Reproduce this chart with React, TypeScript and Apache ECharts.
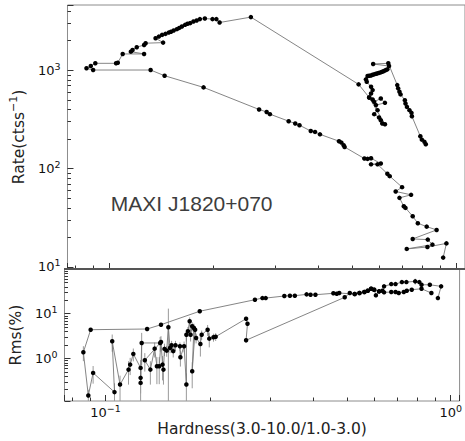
import React, { useEffect, useRef } from 'react';
import * as echarts from 'echarts';

// ---------- data ----------
const topHardness = [
  0.818, 0.811, 0.797, 0.789, 0.746, 0.744, 0.734, 0.722, 0.715, 0.712, 0.692, 0.687, 0.681, 0.677, 0.638,
  0.577, 0.641, 0.634, 0.628, 0.620, 0.613, 0.607, 0.600, 0.594, 0.588, 0.581, 0.575, 0.569, 0.562, 0.556, 0.550, 0.553,
  0.569, 0.575, 0.569, 0.562, 0.575, 0.581, 0.607, 0.624, 0.588, 0.594, 0.581, 0.600, 0.607, 0.613, 0.624, 0.562, 0.524,
  0.2565, 0.2084, 0.2040, 0.1988, 0.1890, 0.1829, 0.1790, 0.1752, 0.1714, 0.1685, 0.1658, 0.1623, 0.1595, 0.1570, 0.1537,
  0.1510, 0.1487, 0.1455, 0.1423, 0.1393, 0.1363, 0.1433, 0.1276, 0.1263, 0.1203, 0.1170, 0.1157, 0.1263, 0.1096, 0.1061,
  0.1049, 0.0914, 0.0887, 0.0862, 0.0901,
  0.1319, 0.1447, 0.1874, 0.2708, 0.2847, 0.2910, 0.3295, 0.3442, 0.3540, 0.3815, 0.3925, 0.4055, 0.4601, 0.4674, 0.4745,
  0.4775, 0.5443, 0.556, 0.569, 0.607, 0.569, 0.594, 0.634, 0.644, 0.699, 0.670, 0.742, 0.687, 0.707, 0.715, 0.750, 0.776,
  0.823, 0.879, 0.750, 0.829, 0.855, 0.721, 0.827, 0.938, 0.918,
];
const topRate = [
  176, 186, 196, 212, 339, 367, 391, 422, 457, 494, 565, 601, 651, 703, 1170,
  1151, 1098, 1016, 1000, 977, 960, 947, 935, 925, 915, 904, 895, 880, 875, 869, 804, 760,
  675, 625, 578, 526, 502, 475, 514, 464, 440, 391, 356, 329, 309, 286, 281, 526, 715,
  3450, 3039, 3291, 3291, 3338, 3291, 3185, 3111, 2996, 2950, 2879, 2766, 2680, 2602, 2518,
  2450, 2402, 2329, 2276, 2187, 2107, 1899, 1873, 1799, 1704, 1600, 1537, 1457, 1457, 1187,
  1170, 1170, 1098, 1041, 1000,
  1000, 875, 666, 397, 375, 356, 302, 286, 275, 240, 235, 222, 189, 183, 172,
  165, 126, 125, 127, 112, 110, 110, 88.3, 83.4, 64.5, 58.3, 53.9, 50.2, 41.2, 39.7, 32.6, 27.7,
  25.6, 23.7, 19.2, 18.9, 16.8, 15.2, 15.9, 17.3, 12.4,
];

const bottomHardness = [
  0.879, 0.823, 0.771, 0.746, 0.731, 0.707, 0.692, 0.6725, 0.641, 0.620, 0.607, 0.600, 0.588, 0.575, 0.562, 0.544, 0.527, 0.510, 0.493,
  0.2553, 0.2577, 0.2553, 0.2084, 0.2054, 0.1997, 0.1975, 0.1898, 0.1882, 0.1829, 0.1817, 0.1782, 0.1802, 0.1782, 0.1763, 0.1752,
  0.1732, 0.1714, 0.1714, 0.1688, 0.1647, 0.1642, 0.1594, 0.1570, 0.1553, 0.1537, 0.1520, 0.1503, 0.1481, 0.1471, 0.1462, 0.1447,
  0.1430, 0.1408, 0.1387, 0.1348, 0.1299, 0.1439, 0.1272, 0.1263, 0.1263, 0.1263, 0.1203, 0.1178, 0.1165, 0.1101, 0.1045, 0.1061,
  0.0920, 0.0891, 0.0862, 0.0905,
  0.1319, 0.1447, 0.1874, 0.2708, 0.2847, 0.2910, 0.3295, 0.3420, 0.3534, 0.3823, 0.3925, 0.4055, 0.4570, 0.4674, 0.4753,
  0.527, 0.544, 0.562, 0.575, 0.588, 0.600, 0.620, 0.634, 0.641, 0.6725, 0.692, 0.722, 0.744, 0.789, 0.811, 0.823, 0.870, 0.938, 0.918,
];
const bottomRms = [
  28.9, 36.1, 34.3, 32.5, 30.4, 28.9, 30.4, 30.4, 30.0, 31.5, 25.7, 34.3, 36.1, 32.5, 30.4, 28.9, 27.5, 28.9, 23.2,
  2.53, 5.94, 7.69, 3.04, 2.95, 2.75, 4.36, 3.37, 2.09, 2.85, 4.36, 0.512, 4.76, 5.20, 3.37, 6.73,
  4.02, 3.37, 0.257, 1.86, 1.05, 1.86, 1.95, 1.44, 1.95, 1.70, 4.94, 1.48, 1.62, 0.556, 0.719, 2.32,
  0.662, 0.662, 1.64, 0.556, 0.902, 2.20, 2.20, 0.280, 0.363, 0.607, 1.25, 0.719, 0.556, 0.257, 2.40, 0.174,
  0.469, 0.146, 1.36, 4.36,
  4.52, 5.65, 11.3, 20.5, 22.3, 22.3, 24.8, 25.2, 25.2, 27.0, 26.5, 26.5, 28.5, 27.9, 28.9,
  27.5, 28.9, 30.4, 32.5, 36.1, 34.3, 31.5, 32.5, 40.8, 45.9, 45.9, 50.9, 50.9, 52.8, 50.9, 44.3, 44.3, 40.8, 22.3,
];
const bottomRmsErr = [
  1, 1, 1, 1, 1, 1, 1, 1, 1, 1, 1, 1, 1, 1, 1, 1, 1, 1, 1,
  0.3, 0.6, 0.8, 0.6, 0.6, 1.0, 1.2, 0.8, 1.0, 0.7, 0.8, 0.3, 1.2, 1.2, 1.0, 1.5,
  1.0, 1.0, 0.2, 0.5, 0.4, 0.4, 0.5, 0.4, 0.5, 0.4, 8.0, 0.4, 0.5, 0.3, 0.4, 0.8,
  0.4, 0.4, 0.6, 0.3, 0.4, 0.8, 1.5, 0.2, 0.2, 0.3, 0.4, 0.3, 0.3, 0.15, 1.0, 0.1,
  0.2, 0.05, 0.5, 0.3,
  0.3, 0.4, 0.5, 0.5, 0.5, 0.5, 0.5, 0.5, 0.5, 0.5, 0.5, 0.5, 0.5, 0.5, 0.5,
  1, 1, 1, 1, 1, 1, 1, 1, 1, 1.5, 1.5, 1.5, 1.5, 8, 1.5, 1.5, 1.5, 1.5, 2,
];

const xRange = [0.076, 1.061];
const topYRange = [9.5, 4580];
const bottomYRange = [0.11, 100];
const xMinorTicks = [0.08, 0.09, 0.2, 0.3, 0.4, 0.5, 0.6, 0.7, 0.8, 0.9];
const topYMinorTicks = [20, 30, 40, 50, 60, 70, 80, 90, 200, 300, 400, 500, 600, 700, 800, 900, 2000, 3000, 4000];
const bottomYMinorTicks = [0.2, 0.3, 0.4, 0.5, 0.6, 0.7, 0.8, 0.9, 2, 3, 4, 5, 6, 7, 8, 9, 20, 30, 40, 50, 60, 70, 80, 90];

const FONT = 'DejaVu Sans';
const TICK_COLOR = '#333';

const powLabel = (v: number) => {
  const l = Math.log10(v);
  const e = Math.round(l);
  if (Math.abs(l - e) > 1e-6) return '';
  return `{b|10}{s|${e < 0 ? '\u2212' + -e : e}}`;
};
const labelRich = {
  b: { fontSize: 13, fontFamily: FONT, color: '#111', lineHeight: 18 },
  s: { fontSize: 9.5, fontFamily: FONT, color: '#111', verticalAlign: 'top', lineHeight: 10 },
};
const nameRich = {
  a: { fontSize: 15.5, fontFamily: FONT, color: '#222', lineHeight: 22 },
  s: { fontSize: 11, fontFamily: FONT, color: '#222', verticalAlign: 'top', lineHeight: 12 },
};

const minorTicks = (gi: number, values: number[], dir: 'x' | 'y', other: number) => ({
  type: 'custom',
  xAxisIndex: gi,
  yAxisIndex: gi,
  silent: true,
  z: 6,
  data: values.map((v) => (dir === 'x' ? [v, other] : [other, v])),
  renderItem: (params: any, api: any) => {
    const cs = params.coordSys;
    const p = api.coord([api.value(0), api.value(1)]);
    if (dir === 'x') {
      const x = Math.round(p[0]) + 0.5;
      return {
        type: 'line',
        shape: { x1: x, y1: cs.y + cs.height, x2: x, y2: cs.y + cs.height - 3.5 },
        style: { stroke: TICK_COLOR, lineWidth: 1 },
      };
    }
    const y = Math.round(p[1]) + 0.5;
    return {
      type: 'line',
      shape: { x1: cs.x, y1: y, x2: cs.x + 3.5, y2: y },
      style: { stroke: TICK_COLOR, lineWidth: 1 },
    };
  },
});

const axisTick = { show: true, inside: true, length: 6, lineStyle: { color: TICK_COLOR, width: 1 } };

export default function App() {
  const ref = useRef<HTMLDivElement>(null);
  useEffect(() => {
    if (!ref.current) return;
    const chart = echarts.init(ref.current, undefined, { renderer: 'svg' });
    const topData = topHardness.map((h, i) => [h, topRate[i]]);
    const botData = bottomHardness.map((h, i) => [h, bottomRms[i]]);
    const errData = bottomHardness.map((h, i) => [
      h,
      Math.max(bottomYRange[0], bottomRms[i] - bottomRmsErr[i]),
      Math.min(bottomYRange[1], bottomRms[i] + bottomRmsErr[i]),
    ]);
    const option: any = {
      animation: false,
      backgroundColor: '#fff',
      grid: [
        { left: 64, top: 5, width: 404, height: 264, show: true, borderColor: '#8c8c8c', borderWidth: 1, backgroundColor: 'transparent' },
        { left: 64, top: 269, width: 404, height: 132, show: true, borderColor: '#8c8c8c', borderWidth: 1, backgroundColor: 'transparent' },
      ],
      xAxis: [
        {
          type: 'log', gridIndex: 0, min: xRange[0], max: xRange[1], logBase: 10,
          axisLine: { show: false }, axisTick, axisLabel: { show: false }, splitLine: { show: false },
        },
        {
          type: 'log', gridIndex: 1, min: xRange[0], max: xRange[1], logBase: 10,
          axisLine: { show: false }, axisTick, splitLine: { show: false },
          axisLabel: { formatter: powLabel, rich: labelRich, margin: 2 },
          name: 'Hardness(3.0-10.0/1.0-3.0)', nameLocation: 'middle', nameGap: 20,
          nameTextStyle: { fontSize: 15.5, fontFamily: FONT, color: '#222' },
        },
      ],
      yAxis: [
        {
          type: 'log', gridIndex: 0, min: topYRange[0], max: topYRange[1], logBase: 10,
          axisLine: { show: false }, axisTick, splitLine: { show: false },
          axisLabel: { formatter: powLabel, rich: labelRich, margin: 7 },
          name: '{a|Rate(ctss}{s|\u22121}{a|)}', nameLocation: 'middle', nameGap: 28, nameRotate: 90,
          nameTextStyle: { rich: nameRich },
        },
        {
          type: 'log', gridIndex: 1, min: bottomYRange[0], max: bottomYRange[1], logBase: 10,
          axisLine: { show: false }, axisTick, splitLine: { show: false },
          axisLabel: { formatter: powLabel, rich: labelRich, margin: 7, showMaxLabel: false },
          name: 'Rms(%)', nameLocation: 'middle', nameGap: 30, nameRotate: 90,
          nameTextStyle: { fontSize: 15.5, fontFamily: FONT, color: '#222' },
        },
      ],
      series: [
        minorTicks(0, xMinorTicks, 'x', 100),
        minorTicks(0, topYMinorTicks, 'y', 0.5),
        minorTicks(1, xMinorTicks, 'x', 1),
        minorTicks(1, bottomYMinorTicks, 'y', 0.5),
        {
          type: 'custom', xAxisIndex: 1, yAxisIndex: 1, silent: true, z: 2,
          encode: { x: 0, y: [1, 2] },
          data: errData,
          renderItem: (params: any, api: any) => {
            const a = api.coord([api.value(0), api.value(1)]);
            const b = api.coord([api.value(0), api.value(2)]);
            return {
              type: 'line',
              shape: { x1: a[0], y1: a[1], x2: b[0], y2: b[1] },
              style: { stroke: '#9a9a9a', lineWidth: 1 },
            };
          },
        },
        {
          type: 'line', xAxisIndex: 0, yAxisIndex: 0, data: topData, z: 3,
          symbol: 'circle', symbolSize: 4.5, showSymbol: true,
          itemStyle: { color: '#000' }, lineStyle: { color: '#777', width: 0.9 },
        },
        {
          type: 'line', xAxisIndex: 1, yAxisIndex: 1, data: botData, z: 3,
          symbol: 'circle', symbolSize: 4.5, showSymbol: true,
          itemStyle: { color: '#000' }, lineStyle: { color: '#777', width: 0.9 },
        },
      ],
      graphic: [
        { type: 'line', shape: { x1: 64, y1: 269, x2: 468, y2: 269 }, style: { stroke: '#555', lineWidth: 2 }, z: 10 },
        {
          type: 'text', x: 191.7, y: 203, z: 10,
          style: { text: 'MAXI J1820+070', fontSize: 21, fontFamily: 'Liberation Sans', fill: '#3d3d3d', align: 'center', verticalAlign: 'middle' },
        },
      ],
    };
    chart.setOption(option);
    return () => chart.dispose();
  }, []);
  return <div ref={ref} style={{ position: 'absolute', left: 0, top: 0, width: 465, height: 441 }} />;
}
